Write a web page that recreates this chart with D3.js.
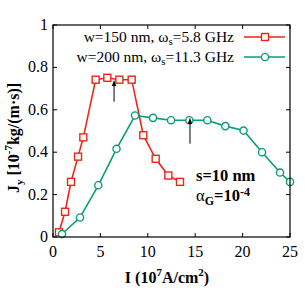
<!DOCTYPE html>
<html><head><meta charset="utf-8">
<script src="https://cdn.jsdelivr.net/npm/d3@7"></script>
<style>body{margin:0;background:#fff}svg{display:block}</style>
</head><body><div id="chart"></div>
<script>
const redX = [0.63, 1.27, 1.9, 2.64, 3.2, 4.5, 5.73, 7.0, 8.3, 9.53, 10.83, 12.17, 13.4];
const redY = [0.022, 0.119, 0.26, 0.379, 0.47, 0.742, 0.751, 0.742, 0.742, 0.48, 0.369, 0.29, 0.26];
const greenX = [0.95, 2.85, 4.78, 6.7, 8.65, 10.55, 12.45, 14.38, 16.28, 18.18, 20.1, 22.05, 23.95, 25.0];
const greenY = [0.014, 0.092, 0.244, 0.416, 0.573, 0.562, 0.551, 0.551, 0.551, 0.523, 0.502, 0.40, 0.304, 0.26];
const xTicks = [0, 5, 10, 15, 20, 25];
const yTicks = [0, 0.2, 0.4, 0.6, 0.8, 1];
const yTickLabels = ["0", "0.2", "0.4", "0.6", "0.8", "1"];
const seriesNames = ["w=150 nm, ω", "w=200 nm, ω"];
const seriesSubs = ["s", "s"];
const seriesTails = ["=5.8 GHz", "=11.3 GHz"];
const arrowX = [6.44, 14.45];
const arrowY0 = [0.638, 0.44];
const arrowY1 = [0.74, 0.563];

const W = 305, H = 291;
const m = {l: 53, r: 15, t: 25, b: 54};
const svg = d3.select("#chart").append("svg").attr("width", W).attr("height", H);
const x = d3.scaleLinear().domain([0, 25]).range([m.l, W - m.r]);
const y = d3.scaleLinear().domain([0, 1]).range([H - m.b, m.t]);
const red = "#ec2618", green = "#0a9e73";
const FF = "Liberation Serif, DejaVu Serif, serif";

// ticks
const tickLen = 4;
const g = svg.append("g").attr("stroke", "#000").attr("stroke-width", 1);
xTicks.forEach(t => {
  g.append("line").attr("x1", x(t)).attr("x2", x(t)).attr("y1", y(0)).attr("y2", y(0) - tickLen);
  g.append("line").attr("x1", x(t)).attr("x2", x(t)).attr("y1", y(1)).attr("y2", y(1) + tickLen);
});
yTicks.forEach(t => {
  g.append("line").attr("x1", x(0)).attr("x2", x(0) + tickLen).attr("y1", y(t)).attr("y2", y(t));
  g.append("line").attr("x1", x(25)).attr("x2", x(25) - tickLen).attr("y1", y(t)).attr("y2", y(t));
});
svg.append("g").selectAll("text").data(xTicks).join("text")
  .attr("font-family", FF)
  .attr("x", d => x(d)).attr("y", y(0) + 20).attr("text-anchor", "middle")
  .attr("font-size", 16).text(d => d);
svg.append("g").selectAll("text").data(yTicks).join("text")
  .attr("font-family", FF)
  .attr("x", x(0) - 5).attr("y", d => y(d) + 5).attr("text-anchor", "end")
  .attr("font-size", 16).text((d, i) => yTickLabels[i]);

// lines & markers
const line = d3.line().x(d => x(d[0])).y(d => y(d[1]));
const redData = redX.map((v, i) => [v, redY[i]]);
const greenData = greenX.map((v, i) => [v, greenY[i]]);
svg.append("path").attr("d", line(redData)).attr("fill", "none").attr("stroke", red).attr("stroke-width", 1.6);
svg.append("path").attr("d", line(greenData)).attr("fill", "none").attr("stroke", green).attr("stroke-width", 1.6);
svg.append("g").selectAll("rect").data(redData).join("rect")
  .attr("x", d => x(d[0]) - 3.5).attr("y", d => y(d[1]) - 3.5).attr("width", 7).attr("height", 7)
  .attr("fill", "#fff").attr("stroke", red).attr("stroke-width", 1.4);
svg.append("g").selectAll("circle").data(greenData).join("circle")
  .attr("cx", d => x(d[0])).attr("cy", d => y(d[1])).attr("r", 3.6)
  .attr("fill", "#fff").attr("stroke", green).attr("stroke-width", 1.4);

// arrows
arrowX.forEach((ax, i) => {
  svg.append("line").attr("x1", x(ax)).attr("x2", x(ax)).attr("y1", y(arrowY0[i])).attr("y2", y(arrowY1[i]) + 3)
    .attr("stroke", "#000").attr("stroke-width", 1);
  const px = x(ax), py = y(arrowY1[i]);
  svg.append("path").attr("d", `M${px},${py} L${px - 2.2},${py + 6} L${px + 2.2},${py + 6} Z`).attr("fill", "#000");
});

// frame
svg.append("rect").attr("x", x(0)).attr("y", y(1)).attr("width", x(25) - x(0)).attr("height", y(0) - y(1))
  .attr("fill", "none").attr("stroke", "#000").attr("stroke-width", 1.2);

// legend
const legColors = [red, green];
[0, 1].forEach(i => {
  const ly = 37 + i * 20;
  const t = svg.append("text").attr("font-family", FF).attr("x", 234).attr("y", ly + 5).attr("text-anchor", "end").attr("font-size", 15.5);
  t.append("tspan").text(seriesNames[i]);
  t.append("tspan").attr("font-size", 11).attr("dy", 3).text(seriesSubs[i]);
  t.append("tspan").attr("dy", -3).text(seriesTails[i]);
  svg.append("line").attr("x1", 244).attr("x2", 285).attr("y1", ly).attr("y2", ly)
    .attr("stroke", legColors[i]).attr("stroke-width", 1.6);
  if (i === 0) svg.append("rect").attr("x", 261.5).attr("y", ly - 3.5).attr("width", 7).attr("height", 7)
    .attr("fill", "#fff").attr("stroke", red).attr("stroke-width", 1.4);
  else svg.append("circle").attr("cx", 265).attr("cy", ly).attr("r", 3.6)
    .attr("fill", "#fff").attr("stroke", green).attr("stroke-width", 1.4);
});

// annotation
svg.append("text").attr("font-family", FF).attr("x", 196).attr("y", 181).attr("font-size", 16.5).attr("font-weight", "bold").text("s=10 nm");
const a = svg.append("text").attr("font-family", FF).attr("x", 196).attr("y", 201).attr("font-size", 16.5);
a.append("tspan").text("α");
a.append("tspan").attr("font-size", 12).attr("font-weight", "bold").attr("dy", 4).text("G");
a.append("tspan").attr("font-weight", "bold").attr("dy", -4).text("=10");
a.append("tspan").attr("font-size", 12).attr("font-weight", "bold").attr("dy", -5).text("-4");

// axis titles
const xt = svg.append("text").attr("font-family", FF).attr("x", 167).attr("y", 283).attr("text-anchor", "middle")
  .attr("font-size", 16).attr("font-weight", "bold");
xt.append("tspan").text("I (10");
xt.append("tspan").attr("font-size", 11).attr("dy", -7).text("7");
xt.append("tspan").attr("dy", 7).text("A/cm");
xt.append("tspan").attr("font-size", 11).attr("dy", -7).text("2");
xt.append("tspan").attr("dy", 7).text(")");

const yt = svg.append("text").attr("font-family", FF).attr("transform", "translate(19,138) rotate(-90)").attr("text-anchor", "middle")
  .attr("font-size", 16).attr("font-weight", "bold");
yt.append("tspan").text("J");
yt.append("tspan").attr("font-size", 11).attr("dy", 4).text("y");
yt.append("tspan").attr("dy", -4).text(" [10");
yt.append("tspan").attr("font-size", 11).attr("dy", -7).text("-7");
yt.append("tspan").attr("dy", 7).text("kg/(m·s)]");
</script></body></html>
